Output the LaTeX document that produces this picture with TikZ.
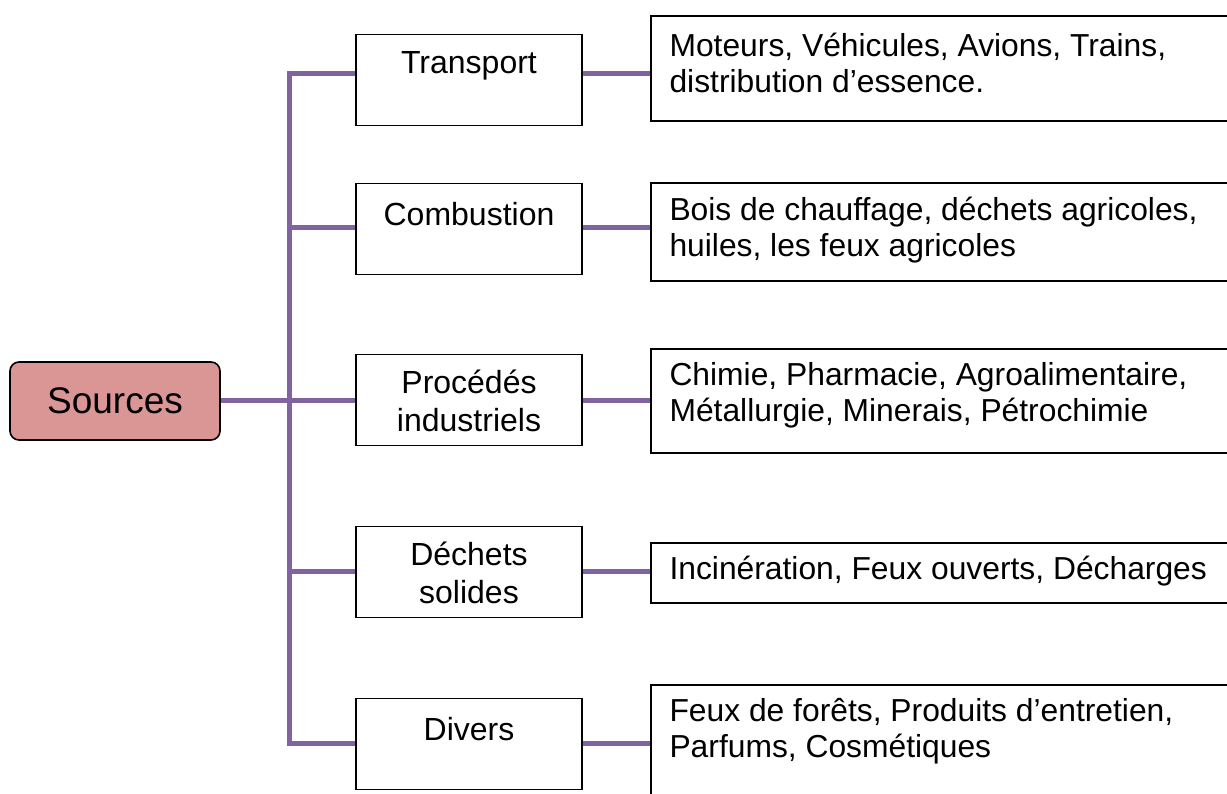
\documentclass[tikz,border=0pt]{standalone}
\usepackage{fontspec}
\setmainfont{Liberation Sans}
\definecolor{srcfill}{HTML}{D99694}
\definecolor{linkpurple}{HTML}{8064A2}
\tikzset{
  box/.style={draw, line width=1.6pt, rectangle, inner sep=0pt},
  srcbox/.style={box, rounded corners=9pt, fill=srcfill, minimum width=210pt, minimum height=78pt, font=\fontsize{37}{40}\selectfont},
  catbox/.style={box, minimum width=226pt, minimum height=91pt},
  exbox/.style={box, anchor=north west, minimum width=640pt},
  cattext/.style={align=center, font=\fontsize{32}{38}\selectfont},
  extext/.style={anchor=west, align=left, font=\fontsize{31.8}{36}\selectfont},
  link/.style={draw=linkpurple, line width=5pt}
}

\begin{document}
\begin{tikzpicture}[x=1pt, y=-1pt]
  \useasboundingbox (0,0) rectangle (1227,794);
  \clip (0,0) rectangle (1227,794);
  \fill[white] (0,0) rectangle (1227,794);

  % source
  \node[srcbox] (src) at (115,401) {Sources};

  % categories
  \node[catbox] (tr) at (469,80) {};
  \node[catbox] (cb) at (469,229) {};
  \node[catbox] (pr) at (469,400) {};
  \node[catbox] (dc) at (469,572) {};
  \node[catbox] (dv) at (469,744) {};
  \node[cattext] (trt) at (469,66) {Transport};
  \node[cattext] (cbt) at (469,214) {Combustion};
  \node[cattext] (prt) at (469,401) {Procédés\\industriels};
  \node[cattext] (dct) at (469,573) {Déchets\\solides};
  \node[cattext] (dvt) at (469,729) {Divers};

  % examples
  \node[exbox, minimum height=105pt] (trx) at (650,15) {};
  \node[exbox, minimum height=98pt] (cbx) at (650,182) {};
  \node[exbox, minimum height=104pt] (prx) at (650,348) {};
  \node[exbox, minimum height=60pt] (dcx) at (650,542) {};
  \node[exbox, minimum height=130pt] (dvx) at (650,684) {};
  \node[extext] (trxt) at (666,63) {Moteurs, Véhicules, Avions, Trains,\\distribution d’essence.};
  \node[extext] (cbxt) at (666,230) {Bois de chauffage, déchets agricoles,\\huiles, les feux agricoles};
  \node[extext] (prxt) at (666,395) {Chimie, Pharmacie, Agroalimentaire,\\Métallurgie, Minerais, Pétrochimie};
  \node[extext] (dcxt) at (666,571) {Incinération, Feux ouverts, Décharges};
  \node[extext] (dvxt) at (666,731) {Feux de forêts, Produits d’entretien,\\Parfums, Cosmétiques};

  % links
  \coordinate (j1) at (289,74);
  \coordinate (j2) at (289,228);
  \coordinate (j3) at (289,401);
  \coordinate (j4) at (289,571);
  \coordinate (j5) at (289,743);
  \draw[link] (j1 -| tr.west) -- (j1) -- (j5) -- (j5 -| dv.west);
  \draw[link] (src.east) -- (j3);
  \draw[link] (j2) -- (j2 -| cb.west);
  \draw[link] (j3) -- (j3 -| pr.west);
  \draw[link] (j4) -- (j4 -| dc.west);
  \draw[link] (j1 -| tr.east) -- (j1 -| trx.west);
  \draw[link] (j2 -| cb.east) -- (j2 -| cbx.west);
  \draw[link] (j3 -| pr.east) -- (j3 -| prx.west);
  \draw[link] (j4 -| dc.east) -- (j4 -| dcx.west);
  \draw[link] (j5 -| dv.east) -- (j5 -| dvx.west);
\end{tikzpicture}
\end{document}
